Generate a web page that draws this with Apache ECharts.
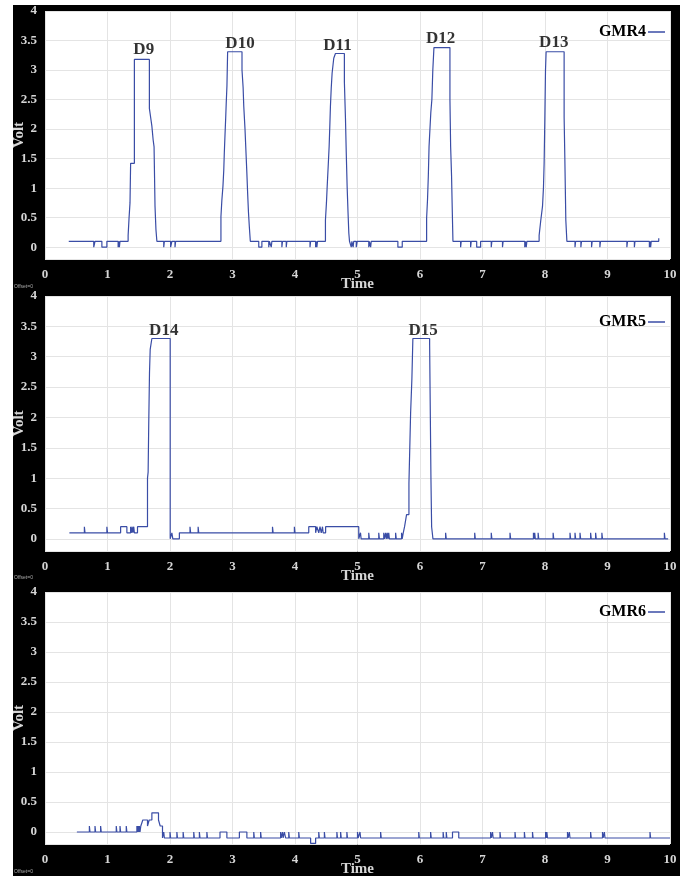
<!DOCTYPE html>
<html><head><meta charset="utf-8">
<script src="https://cdn.jsdelivr.net/npm/echarts@6/dist/echarts.min.js"></script>
<style>html,body{margin:0;padding:0;background:#fff}#c{width:691px;height:876px}</style>
</head><body><div id="c"></div>
<script>
// ---------- data ----------
const seriesNames = ['GMR4', 'GMR5', 'GMR6'];
const xTickValues = [0, 1, 2, 3, 4, 5, 6, 7, 8, 9, 10];

// [time, volt] — each point starts a level that is held until the next point
const gmr4 = [
  [0.38,0.1],[0.78,0],[0.80,0.1],[0.91,0],[0.99,0.1],
  [1.17,0],[1.18,0.1],[1.19,0],[1.20,0.1],
  [1.33,0.2],[1.345,0.5],[1.36,0.75],[1.37,1.42],[1.43,3.18],
  [1.67,2.35],[1.69,2.2],[1.71,2.05],[1.73,1.82],[1.745,1.7],[1.76,0.7],[1.775,0.3],[1.79,0.1],
  [1.90,0],[1.91,0.1],[2.01,0],[2.03,0.1],[2.08,0],[2.09,0.1],
  [2.815,0.52],[2.83,0.8],[2.847,1.03],[2.86,1.3],[2.869,1.6],[2.88,1.9],[2.89,2.16],[2.90,2.45],[2.911,2.73],[2.922,3.31],
  [3.152,3.0],[3.17,2.7],[3.18,2.39],[3.2,2.0],[3.216,1.6],[3.23,1.25],[3.242,0.92],[3.255,0.6],[3.269,0.35],[3.285,0.1],
  [3.42,0],[3.47,0.1],[3.58,0],[3.59,0.1],[3.62,0],[3.63,0.1],[3.79,0],[3.80,0.1],[3.86,0],[3.87,0.1],
  [4.24,0],[4.25,0.1],[4.33,0],[4.34,0.1],[4.35,0],[4.36,0.1],
  [4.487,0.46],[4.503,0.75],[4.515,1.03],[4.53,1.35],[4.546,1.7],[4.557,2.05],[4.567,2.39],[4.58,2.7],[4.594,2.95],[4.62,3.2],[4.647,3.28],
  [4.79,2.8],[4.808,2.16],[4.82,1.6],[4.834,1.03],[4.848,0.6],[4.861,0.24],[4.872,0.1],
  [4.90,0],[4.91,0.1],[4.93,0],[4.94,0.1],[4.98,0],[4.995,0.1],
  [5.18,0],[5.19,0.1],[5.21,0],[5.22,0.1],[5.646,0],[5.716,0.1],
  [6.106,0.5],[6.12,0.8],[6.133,1.2],[6.145,1.71],[6.159,2.0],[6.173,2.28],[6.19,2.5],[6.205,3.0],[6.223,3.38],
  [6.479,2.5],[6.49,1.71],[6.505,1.2],[6.515,0.69],[6.527,0.1],
  [6.65,0],[6.66,0.1],[6.81,0],[6.82,0.1],[6.907,0],[6.97,0.1],[7.14,0],[7.15,0.1],[7.32,0],[7.33,0.1],
  [7.676,0],[7.686,0.1],[7.70,0],[7.71,0.1],
  [7.906,0.2],[7.933,0.46],[7.96,0.69],[7.975,1.0],[7.986,1.42],[7.997,2.16],[8.008,3.0],[8.018,3.31],
  [8.306,2.2],[8.317,1.53],[8.333,0.46],[8.35,0.1],
  [8.48,0],[8.49,0.1],[8.574,0],[8.584,0.1],[8.745,0],[8.755,0.1],[8.878,0],[8.888,0.1],
  [9.31,0],[9.32,0.1],[9.43,0],[9.44,0.1],[9.67,0],[9.68,0.1],[9.69,0],[9.70,0.1],
  [9.82,0.15],[9.83,0.15]
];

const gmr5 = [
  [0.39,0.1],[0.63,0.2],[0.64,0.1],[0.99,0.2],[1.0,0.1],
  [1.21,0.2],[1.31,0.1],[1.37,0.2],[1.38,0.1],[1.395,0.2],[1.405,0.1],[1.42,0.2],[1.43,0.1],
  [1.48,0.2],[1.64,1.0],[1.65,1.1],[1.66,1.91],[1.672,2.74],[1.683,3.12],[1.71,3.3],
  [2.003,0],[2.03,0.1],[2.045,0],[2.15,0.1],
  [2.32,0.2],[2.33,0.1],[2.45,0.2],[2.46,0.1],[3.64,0.2],[3.65,0.1],[3.99,0.2],[4.0,0.1],
  [4.22,0.2],[4.33,0.1],[4.35,0.2],[4.38,0.1],[4.40,0.2],[4.42,0.1],[4.44,0.2],[4.45,0.1],[4.49,0.2],
  [5.02,0],[5.048,0.1],[5.058,0],[5.18,0.1],[5.19,0],[5.34,0.1],[5.35,0],
  [5.42,0.1],[5.43,0],[5.45,0.1],[5.46,0],[5.476,0.1],[5.486,0],[5.50,0.1],[5.51,0],
  [5.61,0.1],[5.62,0],[5.705,0.1],[5.715,0],
  [5.732,0.1],[5.753,0.2],[5.785,0.4],[5.823,0.92],[5.85,2.08],[5.87,2.63],[5.886,3.3],
  [6.154,3.2],[6.175,1.0],[6.186,0.2],[6.207,0],
  [6.41,0.1],[6.42,0],[6.875,0.1],[6.885,0],[7.14,0.1],[7.15,0],[7.44,0.1],[7.45,0],
  [7.815,0.1],[7.825,0],[7.835,0.1],[7.845,0],[7.89,0.1],[7.9,0],[8.13,0.1],[8.14,0],
  [8.40,0.1],[8.41,0],[8.48,0.1],[8.49,0],[8.56,0.1],[8.57,0],[8.73,0.1],[8.74,0],
  [8.81,0.1],[8.82,0],[8.91,0.1],[8.92,0],[9.91,0.1],[9.92,0],[9.97,0]
];

const gmr6 = [
  [0.51,0],[0.71,0.1],[0.72,0],[0.80,0.1],[0.81,0],[0.89,0.1],[0.90,0],
  [1.14,0.1],[1.15,0],[1.20,0.1],[1.21,0],[1.30,0.1],[1.31,0],
  [1.47,0.1],[1.48,0],[1.49,0.1],[1.50,0],[1.51,0.1],[1.52,0],
  [1.533,0.1],[1.565,0.2],[1.64,0.1],[1.667,0.2],[1.71,0.32],[1.816,0.2],[1.843,0.1],[1.88,-0.1],
  [1.90,0],[1.91,-0.1],[2.0,0],[2.01,-0.1],[2.11,0],[2.12,-0.1],[2.21,0],[2.22,-0.1],
  [2.38,0],[2.39,-0.1],[2.47,0],[2.48,-0.1],[2.59,0],[2.60,-0.1],
  [2.80,0],[2.91,-0.1],[3.11,0],[3.23,-0.1],[3.34,0],[3.35,-0.1],[3.45,0],[3.46,-0.1],
  [3.77,0],[3.78,-0.1],[3.80,0],[3.81,-0.1],[3.83,0],[3.85,-0.1],[3.9,0],[3.91,-0.1],[4.06,0],[4.07,-0.1],
  [4.25,-0.19],[4.33,-0.1],
  [4.38,0],[4.39,-0.1],[4.47,0],[4.48,-0.1],[4.67,0],[4.68,-0.1],[4.73,0],[4.74,-0.1],[4.83,0],[4.84,-0.1],
  [5.0,0],[5.01,-0.1],[5.04,0],[5.05,-0.1],[5.37,0],[5.38,-0.1],[5.98,0],[5.99,-0.1],
  [6.17,0],[6.18,-0.1],[6.37,0],[6.38,-0.1],[6.42,0],[6.43,-0.1],[6.52,0],[6.62,-0.1],
  [7.13,0],[7.14,-0.1],[7.16,0],[7.17,-0.1],[7.28,0],[7.29,-0.1],[7.52,0],[7.53,-0.1],
  [7.67,0],[7.68,-0.1],[7.80,0],[7.81,-0.1],[8.01,0],[8.02,-0.1],[8.03,0],[8.04,-0.1],
  [8.36,0],[8.37,-0.1],[8.39,0],[8.40,-0.1],[8.73,0],[8.74,-0.1],[8.92,0],[8.93,-0.1],
  [8.95,0],[8.96,-0.1],[9.68,0],[9.69,-0.1],[10,-0.1]
];

// peak annotations: name, time, volt (anchor of label centre)
const peaks1Names = ['D9','D10','D11','D12','D13'];
const peaks1Time  = [1.58, 3.12, 4.68, 6.33, 8.14];
const peaks1Volt  = [3.35, 3.44, 3.42, 3.53, 3.46];
const peaks2Names = ['D14','D15'];
const peaks2Time  = [1.90, 6.05];
const peaks2Volt  = [3.43, 3.43];

// ---------- chart ----------
const SERIF = '"Liberation Serif","Times New Roman",serif';
const LINE = '#3a4da6';
const AX = '#d6d6d6';
const grids = [
  {left:45, right:21, top:11, height:248},
  {left:45, right:21, top:296, height:255},
  {left:45, right:21, top:592, height:252}
].map(g => Object.assign(g, {show:true, backgroundColor:'#fff', borderWidth:0, containLabel:false, outerBoundsMode:'none'}));

const xAxes = grids.map((g,i) => ({
  type:'value', gridIndex:i, min:0, max:10, interval:1,
  name:'Time', nameLocation:'middle', nameGap:18, nameMoveOverlap:false,
  nameTextStyle:{color:AX, fontFamily:SERIF, fontWeight:'bold', fontSize:15},
  axisLine:{show:false}, axisTick:{show:false},
  axisLabel:{color:AX, fontFamily:SERIF, fontWeight:'bold', fontSize:13, margin:9,
    formatter: v => xTickValues.includes(v) ? String(v) : ''},
  splitLine:{show:true, lineStyle:{color:'#e4e4e4', width:1}}
}));
const yAxes = grids.map((g,i) => ({
  type:'value', gridIndex:i, min:-0.2, max:4, splitNumber:8,
  name:'Volt', nameLocation:'middle', nameGap:18, nameRotate:90, nameMoveOverlap:false,
  nameTextStyle:{color:AX, fontFamily:SERIF, fontWeight:'bold', fontSize:15},
  axisLine:{show:false}, axisTick:{show:false},
  axisLabel:{color:AX, fontFamily:SERIF, fontWeight:'bold', fontSize:13, margin:8, showMinLabel:false,
    formatter: v => v < 0 ? '' : String(v)},
  splitLine:{show:true, lineStyle:{color:'#e4e4e4', width:1}}
}));

const lineSeries = [gmr4, gmr5, gmr6].map((d,i) => ({
  name: seriesNames[i], type:'line', xAxisIndex:i, yAxisIndex:i,
  data:d, step:'end', showSymbol:false, symbol:'none',
  lineStyle:{color:LINE, width:1.2}, itemStyle:{color:LINE}, z:3
}));
function peakSeries(names, times, volts, idx){
  return {
    type:'scatter', xAxisIndex:idx, yAxisIndex:idx, symbolSize:2, silent:true,
    itemStyle:{color:'rgba(0,0,0,0)'},
    labelLayout:{hideOverlap:false},
    data: names.map((n,k) => ({value:[times[k], volts[k]], name:n})),
    label:{show:true, position:'inside', formatter:p => p.name, color:'#000',
      fontFamily:SERIF, fontWeight:'bold', fontSize:17},
    z:5
  };
}
const legendTops = [24, 314, 604];
const legends = seriesNames.map((n,i) => ({
  data:[n], right:26, top:legendTops[i], align:'right', icon:'rect',
  itemWidth:17, itemHeight:1.5, itemGap:0, padding:0,
  textStyle:{color:'#000', fontFamily:SERIF, fontWeight:'bold', fontSize:16, padding:[0,-3,0,0]}
}));

const chart = echarts.init(document.getElementById('c'), null, {renderer:'canvas'});
chart.setOption({
  backgroundColor:'#fff',
  animation:false,
  graphic:[
    {type:'rect', shape:{x:13, y:5, width:667, height:871}, style:{fill:'#000'}, z:-100, silent:true},
    {type:'text', x:14, y:284, style:{text:'Offset=0', fill:'#aaa', font:'5px sans-serif'}, z:-50},
    {type:'text', x:14, y:575, style:{text:'Offset=0', fill:'#aaa', font:'5px sans-serif'}, z:-50},
    {type:'text', x:14, y:869, style:{text:'Offset=0', fill:'#aaa', font:'5px sans-serif'}, z:-50}
  ],
  grid:grids, xAxis:xAxes, yAxis:yAxes, legend:legends,
  series: lineSeries.concat([
    peakSeries(peaks1Names, peaks1Time, peaks1Volt, 0),
    peakSeries(peaks2Names, peaks2Time, peaks2Volt, 1)
  ])
});
</script></body></html>
